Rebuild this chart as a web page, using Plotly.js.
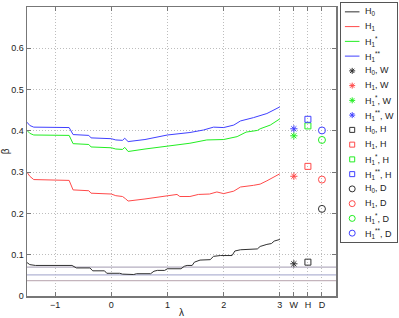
<!DOCTYPE html>
<html>
<head>
<meta charset="utf-8">
<script src="https://cdn.plot.ly/plotly-3.0.1.min.js"></script>
<style>html,body{margin:0;padding:0;background:#fff}#chart{width:399px;height:318px}</style>
</head>
<body>
<div id="chart"></div>
<script>
// ---- data ----
const lamH0 = [-1.5,-1.45,-1.35,-0.7,-0.62,-0.38,-0.33,-0.12,-0.08,0.15,0.2,0.4,0.45,0.7,0.76,0.82,0.95,1.0,1.24,1.3,1.35,1.44,1.48,1.58,1.76,1.82,1.94,2.15,2.2,2.3,2.6,2.65,2.77,2.85,2.9,3.0];
const valH0 = [0.081,0.076,0.074,0.074,0.068,0.068,0.061,0.061,0.055,0.055,0.053,0.052,0.054,0.054,0.060,0.062,0.062,0.066,0.066,0.072,0.074,0.074,0.082,0.087,0.088,0.096,0.098,0.098,0.109,0.112,0.114,0.120,0.125,0.127,0.133,0.137];

const lamH1 = [-1.5,-1.45,-1.38,-0.75,-0.68,-0.4,-0.36,0.0,0.08,0.2,0.25,0.3,0.6,1.0,1.17,1.22,1.4,1.55,1.75,1.88,2.0,2.18,2.3,2.53,2.65,2.77,2.89,3.0];
const valH1 = [0.300,0.290,0.282,0.280,0.257,0.255,0.249,0.247,0.243,0.241,0.236,0.230,0.235,0.242,0.246,0.241,0.241,0.246,0.247,0.252,0.248,0.254,0.264,0.268,0.271,0.279,0.287,0.296];

const lamH1s = [-1.5,-1.45,-1.38,-0.75,-0.68,-0.4,-0.36,0.0,0.08,0.2,0.24,0.27,0.3,0.6,1.0,1.4,1.7,2.0,2.24,2.4,2.6,2.65,2.83,3.0];
const valH1s = [0.401,0.394,0.390,0.389,0.369,0.367,0.361,0.359,0.356,0.355,0.360,0.356,0.350,0.356,0.363,0.370,0.378,0.379,0.386,0.397,0.401,0.405,0.414,0.429];

const lamH1ss = [-1.5,-1.45,-1.38,-0.75,-0.68,-0.4,-0.36,0.0,0.08,0.2,0.24,0.27,0.3,0.6,1.0,1.4,1.64,1.82,2.0,2.18,2.3,2.53,2.77,3.0];
const valH1ss = [0.421,0.413,0.409,0.408,0.391,0.389,0.383,0.381,0.378,0.377,0.382,0.378,0.374,0.379,0.390,0.396,0.402,0.409,0.408,0.414,0.424,0.432,0.442,0.458];

// test statistics (order: H0, H1, H1*, H1**)
const wVals = [0.078, 0.290, 0.388, 0.405];
const hVals = [0.082, 0.314, 0.412, 0.428];
const dVals = [0.211, 0.282, 0.378, 0.401];

// horizontal reference levels
const refLevels = [0.070, 0.051, 0.037];

const xTickVals = [-1, 0, 1, 2, 3, 3.25, 3.5, 3.75];
const xTickText = ['\u22121', '0', '1', '2', '3', 'W', 'H', 'D'];
const yTickVals = [0, 0.1, 0.2, 0.3, 0.4, 0.5, 0.6];
const yTickText = ['0', '0.1', '0.2', '0.3', '0.4', '0.5', '0.6'];

const hypNames = ['H<sub>0</sub>', 'H<sub>1</sub>', 'H<sub>1</sub><sup>*</sup>', 'H<sub>1</sub><sup>**</sup>'];
const testNames = ['W', 'H', 'D'];
const colors = ['#303030', '#ff4a4a', '#22ee22', '#4040ff'];

// ---- build traces ----
const traces = [];
const lines = [[lamH0, valH0], [lamH1, valH1], [lamH1s, valH1s], [lamH1ss, valH1ss]];
const refColors = ['#b4aec0', '#b2b4d4', '#c4b4bc'];
refLevels.forEach((v, i) => traces.push({
  x: [-1.5, 4], y: [v, v], type: 'scatter', mode: 'lines',
  line: {color: refColors[i], width: 1.3}, hoverinfo: 'skip', showlegend: false
}));
lines.forEach((l, i) => traces.push({
  x: l[0], y: l[1], type: 'scatter', mode: 'lines',
  line: {color: colors[i], width: 1}, hoverinfo: 'skip', showlegend: false
}));
const symbols = ['asterisk-open', 'square-open', 'circle-open'];
const symSize = [6, 6, 7];
const testVals = [wVals, hVals, dVals];
testVals.forEach((vals, t) => {
  vals.forEach((v, i) => traces.push({
    x: [xTickVals[5 + t]], y: [v], type: 'scatter', mode: 'markers',
    marker: {symbol: symbols[t], size: symSize[t], color: colors[i], line: {color: colors[i], width: 1}},
    hoverinfo: 'skip', showlegend: false
  }));
});

// ---- legend as a small subplot ----
const annotations = [];
let row = 1;
hypNames.forEach((n, i) => {
  traces.push({x: [0.07, 0.33], y: [row, row], xaxis: 'x2', yaxis: 'y2', type: 'scatter', mode: 'lines',
    line: {color: colors[i], width: 1}, hoverinfo: 'skip', showlegend: false});
  annotations.push({xref: 'x2', yref: 'y2', x: 0.39, y: row, text: n, showarrow: false, xanchor: 'left', yanchor: 'middle',
    font: {size: 9, color: '#222'}});
  row++;
});
testNames.forEach((tn, t) => {
  hypNames.forEach((n, i) => {
    traces.push({x: [0.2], y: [row], xaxis: 'x2', yaxis: 'y2', type: 'scatter', mode: 'markers',
      marker: {symbol: symbols[t], size: symSize[t] - 1, color: colors[i], line: {color: colors[i], width: 1}},
      hoverinfo: 'skip', showlegend: false});
    annotations.push({xref: 'x2', yref: 'y2', x: 0.39, y: row, text: n + ', ' + tn, showarrow: false, xanchor: 'left', yanchor: 'middle',
      font: {size: 9, color: '#222'}});
    row++;
  });
});

const W = 399, H = 318;
const plotL = 27, plotR = 336, plotT = 7, plotB = 296;
const legL = 341, legR = 397, legT = 3, legB = 242;

const gridStyle = {showgrid: true, gridcolor: '#bdbdbd', griddash: '1px,2px', gridwidth: 1};

const layout = {
  width: W, height: H,
  margin: {l: 0, r: 0, t: 0, b: 0},
  paper_bgcolor: '#ffffff', plot_bgcolor: '#ffffff',
  font: {family: 'Liberation Sans, Arial, sans-serif', size: 9, color: '#222'},
  showlegend: false,
  xaxis: Object.assign({
    domain: [plotL / W, plotR / W], range: [-1.5, 4],
    tickmode: 'array', tickvals: xTickVals, ticktext: xTickText,
    zeroline: false, showline: true, mirror: 'ticks', linecolor: '#777777', linewidth: 1.5,
    ticks: 'inside', ticklen: 4, tickcolor: '#777777',
    tickfont: {size: 9, color: '#222'},
    title: {text: '\u03bb', font: {size: 10, color: '#222'}, standoff: 4}
  }, gridStyle),
  yaxis: Object.assign({
    domain: [(H - plotB) / H, (H - plotT) / H], range: [0, 0.7],
    tickmode: 'array', tickvals: yTickVals, ticktext: yTickText,
    zeroline: false, showline: true, mirror: 'ticks', linecolor: '#777777', linewidth: 1.5,
    ticks: 'inside', ticklen: 4, tickcolor: '#777777',
    tickfont: {size: 9, color: '#222'},
    title: {text: '\u03b2', font: {size: 10, color: '#222'}, standoff: 6}
  }, gridStyle),
  xaxis2: {
    domain: [legL / W, legR / W], range: [0, 1], anchor: 'y2',
    showgrid: false, zeroline: false, showticklabels: false, ticks: '',
    showline: true, mirror: true, linecolor: '#555', linewidth: 1
  },
  yaxis2: {
    domain: [(H - legB) / H, (H - legT) / H], range: [16.6, 0.4], anchor: 'x2',
    showgrid: false, zeroline: false, showticklabels: false, ticks: '',
    showline: true, mirror: true, linecolor: '#555', linewidth: 1
  },
  annotations: annotations
};

Plotly.newPlot('chart', traces, layout, {staticPlot: true, displayModeBar: false});
</script>
</body>
</html>
